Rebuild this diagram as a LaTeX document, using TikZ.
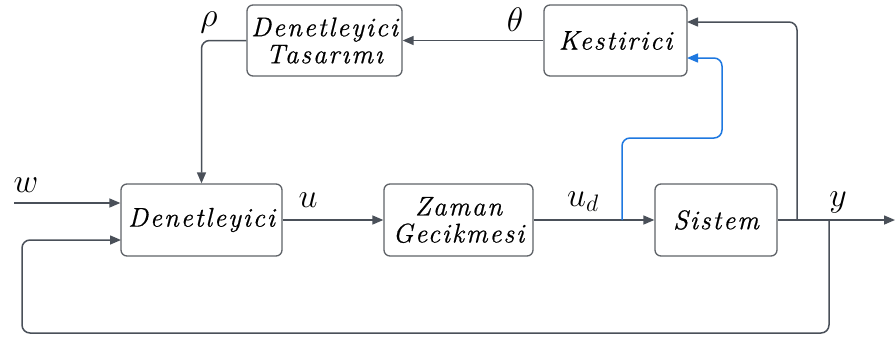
\RequirePackage{fix-cm}
\documentclass[tikz,border=0pt]{standalone}
\usepackage{fontspec}
\newfontfamily\blockfont{Latin Modern Roman}[LetterSpace=7, FakeBold=0.6]
\usetikzlibrary{arrows.meta,calc}
\definecolor{linegray}{HTML}{4A5059}
\definecolor{boxgray}{HTML}{5F6368}
\definecolor{sigblue}{HTML}{1E78E0}
\tikzset{
  blockbox/.style={draw=boxgray, line width=1.3pt, rounded corners=6pt, fill=white,
    align=center, inner sep=0pt,
    font=\fontsize{27}{27}\blockfont\itshape},
  sig/.style={draw=linegray, line width=1.5pt, rounded corners=8pt,
    -{Triangle[length=11pt,width=9pt]}},
  bluesig/.style={draw=sigblue, line width=1.5pt, rounded corners=8pt,
    -{Triangle[length=11pt,width=9pt]}},
  lab/.style={inner sep=0pt, font=\fontsize{34}{34}\selectfont},
}
\begin{document}
\begin{tikzpicture}[x=1pt,y=-1pt]
\useasboundingbox (0,0) rectangle (895,341);
% blocks
\node[blockbox, minimum width=155pt, minimum height=71pt] (DT) at (324.5,40.5) {Denetleyici\\Tasarımı};
\node[blockbox, minimum width=143pt, minimum height=71pt] (K) at (615.5,40.5) {Kestirici};
\node[blockbox, minimum width=161pt, minimum height=72pt] (D) at (201.5,220) {Denetleyici};
\node[blockbox, minimum width=149pt, minimum height=72pt] (Z) at (458.5,220) {Zaman\\Gecikmesi};
\node[blockbox, minimum width=122pt, minimum height=72pt] (S) at (716,220) {Sistem};
% auxiliary points
\coordinate (win) at (14,203);
\coordinate (Dw) at (D.west |- win);
\coordinate (Dfb) at (121,240);
\coordinate (yout) at (895,220);
\coordinate (jk) at (797,220);
\coordinate (jfb) at (829,220);
\coordinate (ud) at (622,220);
\coordinate (Kin1) at (687,22);
\coordinate (Kin2) at (687,58);
% signals
\draw[sig] (win) -- (Dw);
\draw[sig] (D.east) -- (Z.west);
\draw[sig] (Z.east) -- (S.west);
\draw[sig] (S.east) -- (yout);
\draw[sig] (K.west) -- (DT.east);
\draw[sig] (DT.west) -| (D.north);
\draw[sig] (jk) |- (Kin1);
\draw[bluesig] (ud) -- (622,138) -- (722,138) |- (Kin2);
\draw[sig] (jfb) -- (829,333) -- (22,333) |- (Dfb);
% labels
\node[lab] (lw) at (26,185) {$w$};
\node[lab] (lu) at (308,200) {$u$};
\node[lab] (lud) at (583,202) {$u_d$};
\node[lab] (ly) at (838,202) {$y$};
\node[lab] (lrho) at (209,22) {$\rho$};
\node[lab] (lth) at (515,20) {$\theta$};
\end{tikzpicture}
\end{document}
